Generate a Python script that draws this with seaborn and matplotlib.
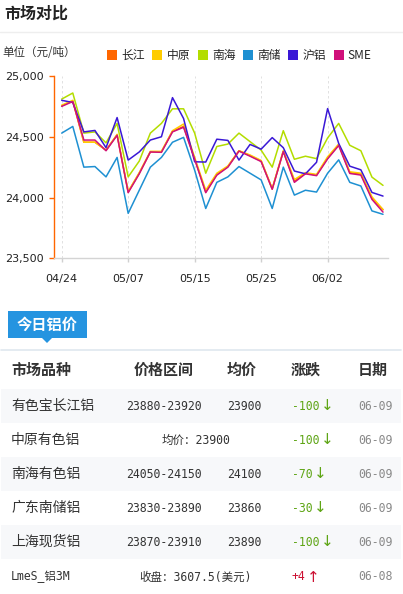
import matplotlib
matplotlib.use('Agg')
import matplotlib.pyplot as plt
import seaborn as sns
import numpy as np
import pandas as pd
from matplotlib.patches import Patch, Rectangle, Polygon
from matplotlib.ticker import FuncFormatter

# ---- chart data ----
markets = ['长江', '中原', '南海', '南储', '沪铝', 'SME']
colors = {'长江': '#FF6600', '中原': '#FFCC00', '南海': '#B3DD00',
          '南储': '#1E90D2', '沪铝': '#3A18D6', 'SME': '#D0107A'}

tick_idx = [0, 6, 12, 18, 24]
tick_labels = ['04/24', '05/07', '05/15', '05/25', '06/02']

changjiang = [24755, 24795, 24455, 24455, 24390, 24515, 24045, 24200, 24375, 24375,
              24545, 24585, 24320, 24045, 24190, 24255, 24385, 24345, 24300, 24070,
              24380, 24135, 24200, 24185, 24325, 24435, 24205, 24195, 23995, 23900]
zhongyuan = [24760, 24800, 24455, 24455, 24390, 24520, 24050, 24205, 24380, 24380,
             24550, 24605, 24330, 24060, 24200, 24260, 24385, 24350, 24305, 24075,
             24385, 24148, 24205, 24190, 24335, 24440, 24212, 24200, 24006, 23900]
nanhai = [24810, 24860, 24530, 24540, 24450, 24610, 24170, 24300, 24530, 24610,
          24730, 24730, 24530, 24200, 24420, 24440, 24530, 24460, 24390, 24250,
          24550, 24315, 24340, 24320, 24490, 24610, 24430, 24385, 24168, 24100]
nanchu = [24530, 24585, 24250, 24255, 24170, 24330, 23870, 24060, 24250, 24330,
          24455, 24495, 24225, 23910, 24125, 24170, 24255, 24200, 24145, 23910,
          24250, 24020, 24060, 24045, 24200, 24310, 24125, 24095, 23890, 23862]
hulv = [24800, 24782, 24540, 24552, 24410, 24658, 24308, 24375, 24473, 24500,
        24822, 24650, 24294, 24292, 24480, 24470, 24308, 24437, 24398, 24493,
        24410, 24218, 24195, 24290, 24732, 24445, 24258, 24228, 24042, 24012]
sme = [24750, 24790, 24473, 24473, 24385, 24512, 24040, 24195, 24375, 24372,
       24540, 24578, 24315, 24040, 24184, 24250, 24382, 24340, 24296, 24068,
       24378, 24125, 24195, 24180, 24318, 24428, 24198, 24185, 23985, 23880]

# ---- table data ----
tbl_header = ['市场品种', '价格区间', '均价', '涨跌', '日期']
names = ['有色宝长江铝', '中原有色铝', '南海有色铝', '广东南储铝', '上海现货铝', 'LmeS_铝3M']
ranges = ['23880-23920', '', '24050-24150', '23830-23890', '23870-23910', '']
avgs = ['23900', '', '24100', '23860', '23890', '']
merged = ['', '均价：23900', '', '', '', '收盘：3607.5(美元)']
changes = ['-100', '-100', '-70', '-30', '-100', '+4']
dates = ['06-09', '06-09', '06-09', '06-09', '06-09', '06-08']

sns.set_style('white')
plt.rcParams['font.family'] = ['Noto Sans CJK SC', 'DejaVu Sans']
CJK = ['Noto Sans CJK SC', 'DejaVu Sans']
MONO = ['DejaVu Sans Mono', 'Noto Sans CJK SC']
MONO_PT = 8.3
MONO_W = 0.602 * MONO_PT * 100 / 72   # width of one mono char in px

fig = plt.figure(figsize=(4.03, 5.94), dpi=100)

# background layer in pixel coordinates
bg = fig.add_axes([0, 0, 1, 1])
bg.set_xlim(0, 403)
bg.set_ylim(594, 0)
bg.axis('off')

bg.text(4, 14, '市场对比', fontsize=11.5, fontweight='bold', va='center', color='#222222')
bg.plot([0, 403], [32, 32], color='#eeeeee', lw=1)
bg.text(2, 53, '单位（元/吨）', fontsize=8.3, va='center', color='#333333')

# line chart
ax = fig.add_axes([54.3 / 403, 1 - 258.3 / 594, (388 - 54.3) / 403, (258.3 - 76) / 594])
ax.patch.set_alpha(0)

wide = pd.DataFrame({'长江': changjiang, '中原': zhongyuan, '南海': nanhai,
                     '南储': nanchu, '沪铝': hulv, 'SME': sme})
wide['idx'] = np.arange(len(wide))
long = wide.melt(id_vars='idx', var_name='market', value_name='price')
sns.lineplot(data=long, x='idx', y='price', hue='market', hue_order=markets,
             palette=colors, lw=1.1, ax=ax, legend=False)

ax.set_xlim(-0.668, 29.45)
ax.set_ylim(23500, 25000)
ax.set_yticks([23500, 24000, 24500, 25000])
ax.yaxis.set_major_formatter(FuncFormatter(lambda v, p: f'{v:,.0f}'))
ax.set_xticks(tick_idx)
ax.set_xticklabels(tick_labels)
ax.set_xlabel('')
ax.set_ylabel('')
ax.xaxis.grid(True, ls=(0, (3, 3)), color='#dcdcdc', lw=0.6)
ax.yaxis.grid(False)
for s in ['top', 'right']:
    ax.spines[s].set_visible(False)
ax.spines['left'].set_color('#FF6600')
ax.spines['left'].set_linewidth(1.0)
ax.spines['bottom'].set_color('#d4d4d4')
ax.spines['bottom'].set_linewidth(1.0)
ax.tick_params(axis='y', colors='#FF6600', labelcolor='#222222', length=3.6,
               width=1, labelsize=8, pad=4, left=True)
ax.tick_params(axis='x', colors='#d0d0d0', labelcolor='#222222', length=3,
               width=1, labelsize=8, pad=8, bottom=True)
for lbl in ax.get_xticklabels() + ax.get_yticklabels():
    lbl.set_fontfamily('DejaVu Sans')

handles = [Patch(facecolor=colors[m], edgecolor='none', label=m) for m in markets]
fig.legend(handles=handles, loc='center left', bbox_to_anchor=(107 / 403, 1 - 55.5 / 594),
           ncol=6, frameon=False, fontsize=8.5, handlelength=0.85, handleheight=0.85,
           handletextpad=0.35, columnspacing=0.65, borderaxespad=0, borderpad=0)

# today's price tab
bg.add_patch(Rectangle((8, 311), 79, 27, facecolor='#2594E0', edgecolor='none'))
bg.add_patch(Polygon([(42, 338), (52, 338), (47, 343)], closed=True,
                     facecolor='#2594E0', edgecolor='none'))
bg.text(47.5, 324.5, '今日铝价', fontsize=11, fontweight='bold', color='white',
        ha='center', va='center')
bg.plot([1, 401], [350, 350], color='#dfe7ef', lw=1.2)

# table header
hy = 370
bg.text(11, hy, tbl_header[0], fontsize=10.8, fontweight='bold', color='#333333', va='center')
bg.text(164, hy, tbl_header[1], fontsize=10.8, fontweight='bold', color='#333333', ha='center', va='center')
bg.text(242, hy, tbl_header[2], fontsize=10.8, fontweight='bold', color='#333333', ha='center', va='center')
bg.text(291, hy, tbl_header[3], fontsize=10.8, fontweight='bold', color='#333333', va='center')
bg.text(373, hy, tbl_header[4], fontsize=10.8, fontweight='bold', color='#333333', ha='center', va='center')

row_y = [406, 440, 474, 508, 542, 577]
for i, y in enumerate(row_y):
    if i % 2 == 0 and i < 5:
        bg.add_patch(Rectangle((1, y - 17), 400, 34, facecolor='#f7f8fa', edgecolor='none'))
    if names[i].startswith('Lme'):
        bg.text(11, y, names[i], fontsize=MONO_PT, color='#333333', va='center', family=MONO)
    else:
        bg.text(11, y, names[i], fontsize=10, color='#333333', va='center', family=CJK)
    if merged[i]:
        bg.text(196, y, merged[i], fontsize=MONO_PT, color='#333333', ha='center', va='center', family=MONO)
    else:
        bg.text(163.5, y, ranges[i], fontsize=MONO_PT, color='#333333', ha='center', va='center', family=MONO)
        bg.text(244.5, y, avgs[i], fontsize=MONO_PT, color='#333333', ha='center', va='center', family=MONO)
    down = changes[i].startswith('-')
    c = '#5EA515' if down else '#CC1133'
    bg.text(292, y, changes[i], fontsize=MONO_PT, color=c, va='center', family=MONO)
    bg.text(292 + len(changes[i]) * MONO_W + 1.5, y, '↓' if down else '↑', fontsize=11,
            color=c, va='center', family='DejaVu Sans')
    bg.text(375, y, dates[i], fontsize=MONO_PT, color='#888888', ha='center', va='center', family=MONO)

fig.savefig('out.png', dpi=100)
